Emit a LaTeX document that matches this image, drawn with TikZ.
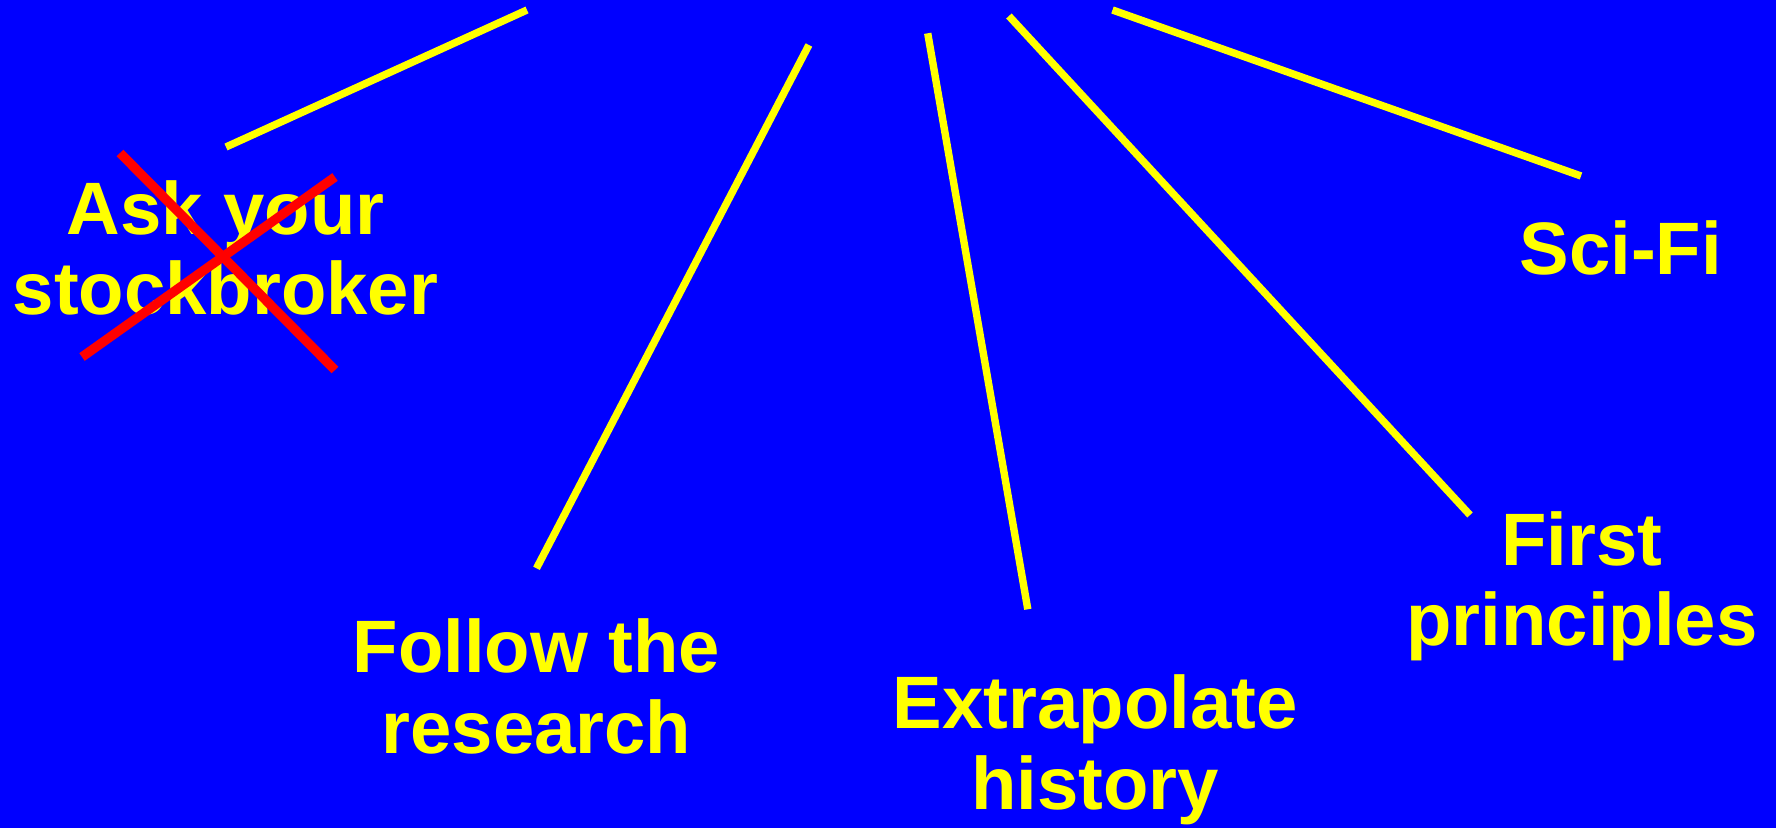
\documentclass[tikz,border=0pt]{standalone}
\usepackage{fontspec}
\setmainfont{Liberation Sans}
\definecolor{bg}{RGB}{0,0,255}
\definecolor{ray}{RGB}{255,255,0}
\definecolor{cross}{RGB}{255,0,0}
\begin{document}
\begin{tikzpicture}[x=0.5pt,y=-0.5pt,
  label/.style={text=ray,font=\fontsize{37.15pt}{40.35pt}\selectfont\bfseries,align=center,inner sep=0pt,anchor=base},
  rayline/.style={draw=ray,line width=3.7pt},
  crossline/.style={draw=cross,line width=4.7pt}]
\fill[bg] (0,0) rectangle (1776,828);
\useasboundingbox (0,0) rectangle (1776,828);
% labels (anchor = baseline of the last line)
\node[label] (ask) at (225.5,315) {Ask your\\stockbroker};
\node[label] (scifi) at (1620.6,275) {Sci-Fi};
\node[label] (follow) at (536.5,753.5) {Follow the\\research};
\node[label] (extra) at (1095.3,809.3) {Extrapolate\\history};
\node[label] (first) at (1582,645.7) {First\\principles};
% ray end points
\coordinate (a1) at (226,147); \coordinate (a2) at (527,10);
\coordinate (b1) at (536.5,568.3); \coordinate (b2) at (808.9,45);
\coordinate (c1) at (1027.8,609.3); \coordinate (c2) at (927.7,33.3);
\coordinate (d1) at (1470,515); \coordinate (d2) at (1008.9,16);
\coordinate (e1) at (1581,176); \coordinate (e2) at (1112.5,10);
\draw[rayline] (a1) -- (a2);
\draw[rayline] (b1) -- (b2);
\draw[rayline] (c1) -- (c2);
\draw[rayline] (d1) -- (d2);
\draw[rayline] (e1) -- (e2);
% red cross
\coordinate (x1) at (120,153); \coordinate (x2) at (335,370);
\coordinate (x3) at (82,357); \coordinate (x4) at (335,177);
\draw[crossline] (x1) -- (x2);
\draw[crossline] (x3) -- (x4);
\end{tikzpicture}
\end{document}
